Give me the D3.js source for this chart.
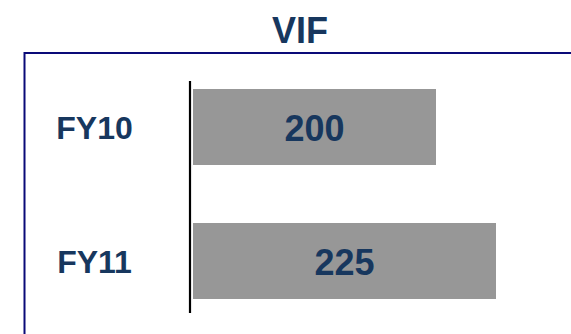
<!DOCTYPE html>
<html>
<head>
<meta charset="utf-8">
<script src="https://cdn.jsdelivr.net/npm/d3@7"></script>
<style>
  html, body { margin: 0; padding: 0; background: #fff; }
  svg { display: block; }
  text { font-family: "Liberation Sans", Arial, sans-serif; font-weight: bold; }
</style>
</head>
<body>
<svg id="chart" width="571" height="334"></svg>
<script>
const title = "VIF";
const categories = ["FY10", "FY11"];
const values = [200, 225];
const valueLabels = ["200", "225"];
const axisMin = 98.75;

const W = 571, H = 334;
const svg = d3.select("#chart");
const navy = "#17375E";

// title
svg.append("text")
  .attr("x", 300).attr("y", 42.5)
  .attr("text-anchor", "middle")
  .attr("font-size", 36)
  .attr("fill", navy)
  .text(title);

// frame (top and left lines)
svg.append("path")
  .attr("d", `M24.5,${H} L24.5,53 L${W},53`)
  .attr("fill", "none")
  .attr("stroke", "#0a0a78")
  .attr("stroke-width", 2);

const x = d3.scaleLinear().domain([axisMin, d3.max(values)]).range([193, 496]);
const y = d3.scaleBand().domain(categories).range([60, 328]).paddingInner(0.433).paddingOuter(0.2165);

// bars
svg.selectAll("rect.bar")
  .data(categories)
  .join("rect")
  .attr("class", "bar")
  .attr("x", x(axisMin))
  .attr("y", d => y(d))
  .attr("width", (d, i) => x(values[i]) - x(axisMin))
  .attr("height", y.bandwidth())
  .attr("fill", "#979797");

// category axis line
svg.append("line")
  .attr("x1", 190).attr("x2", 190)
  .attr("y1", 81).attr("y2", 313)
  .attr("stroke", "#000")
  .attr("stroke-width", 2.2);

// category labels
svg.selectAll("text.cat")
  .data(categories)
  .join("text")
  .attr("class", "cat")
  .attr("x", 94.5)
  .attr("y", d => y(d) + y.bandwidth() / 2 + 12.3)
  .attr("text-anchor", "middle")
  .attr("font-size", 32)
  .attr("fill", navy)
  .text(d => d);

// value labels
svg.selectAll("text.val")
  .data(categories)
  .join("text")
  .attr("class", "val")
  .attr("x", (d, i) => (x(axisMin) + x(values[i])) / 2)
  .attr("y", (d, i) => y(d) + y.bandwidth() / 2 + 14)
  .attr("text-anchor", "middle")
  .attr("font-size", 36)
  .attr("fill", navy)
  .text((d, i) => valueLabels[i]);
</script>
</body>
</html>
